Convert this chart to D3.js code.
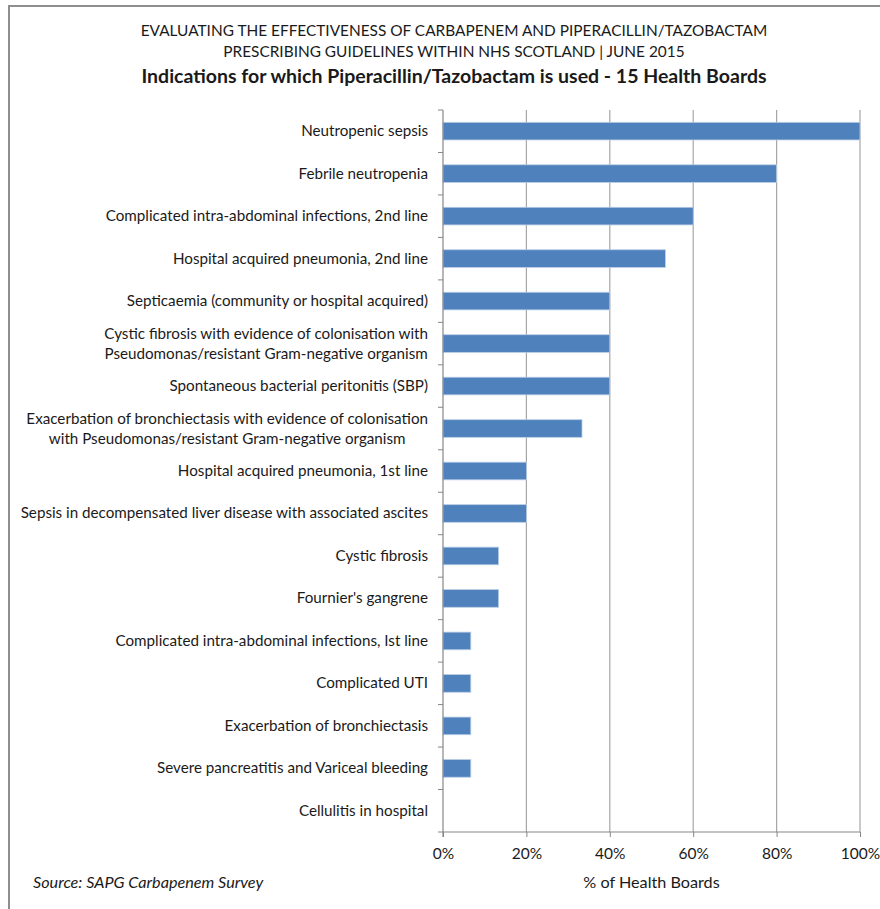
<!DOCTYPE html>
<html>
<head>
<meta charset="utf-8">
<script src="https://cdn.jsdelivr.net/npm/d3@7"></script>
<style>
  body { margin: 0; background: #fff; }
  text { font-family: Lato, "Open Sans", sans-serif; fill: #1a1a1a; }
</style>
</head>
<body>
<div id="chart"></div>
<script>
// categories top to bottom, "\n" marks a line break in the label
var categories = [
  "Neutropenic sepsis",
  "Febrile neutropenia",
  "Complicated intra-abdominal infections, 2nd line",
  "Hospital acquired pneumonia, 2nd line",
  "Septicaemia (community or hospital acquired)",
  "Cystic fibrosis with evidence of colonisation with\nPseudomonas/resistant Gram-negative organism",
  "Spontaneous bacterial peritonitis (SBP)",
  "Exacerbation of bronchiectasis with evidence of colonisation\nwith Pseudomonas/resistant  Gram-negative organism",
  "Hospital acquired pneumonia, 1st line",
  "Sepsis in decompensated liver disease with associated ascites",
  "Cystic fibrosis",
  "Fournier's gangrene",
  "Complicated intra-abdominal infections, Ist line",
  "Complicated UTI",
  "Exacerbation of bronchiectasis",
  "Severe pancreatitis and Variceal bleeding",
  "Cellulitis in hospital"
];
// number of the 15 boards
var boards = [15, 12, 9, 8, 6, 6, 6, 5, 3, 3, 2, 2, 1, 1, 1, 1, 0];
var totalBoards = 15;
var xTicks = [0, 0.2, 0.4, 0.6, 0.8, 1];
var titleLines = [
  "EVALUATING THE EFFECTIVENESS OF CARBAPENEM AND PIPERACILLIN/TAZOBACTAM",
  "PRESCRIBING GUIDELINES WITHIN NHS SCOTLAND | JUNE 2015"
];
var subTitle = "Indications for which Piperacillin/Tazobactam is used - 15 Health Boards";

var W = 880, H = 909;
var margin = {top: 110, right: 20, bottom: 77, left: 443};
var width = 860 - margin.left,
    height = 832 - margin.top;

var svg = d3.select("#chart").append("svg")
    .attr("width", W).attr("height", H);

// outer frame (right/bottom edges fall outside the picture)
svg.append("rect")
    .attr("x", 9).attr("y", 6)
    .attr("width", W + 20).attr("height", H + 20)
    .attr("fill", "none").attr("stroke", "#8e8e8e").attr("stroke-width", 2);

svg.selectAll(".ttl").data(titleLines).enter().append("text")
    .attr("class", "ttl")
    .attr("x", 454).attr("y", function (d, i) { return 36 + i * 21; })
    .attr("text-anchor", "middle")
    .style("font-size", "15.4px")
    .text(function (d) { return d; });

svg.append("text")
    .attr("x", 454).attr("y", 83)
    .attr("text-anchor", "middle")
    .style("font-size", "19.5px").style("font-weight", "bold")
    .text(subTitle);

var g = svg.append("g")
    .attr("transform", "translate(" + margin.left + "," + margin.top + ")");

var x = d3.scaleLinear().domain([0, 1]).range([0, width]);
var y = d3.scaleBand().domain(categories).range([0, height]).paddingInner(0.585).paddingOuter(0.29);
var yLines = d3.scaleBand().domain(categories).range([0, height]);

// gridlines
g.selectAll(".grid").data(xTicks.slice(1)).enter().append("line")
    .attr("class", "grid")
    .attr("x1", function (d) { return x(d); }).attr("x2", function (d) { return x(d); })
    .attr("y1", 0).attr("y2", height)
    .attr("stroke", "#a6a6a6").attr("stroke-width", 1.2);

// bars
g.selectAll(".bar").data(categories).enter().append("rect")
    .attr("class", "bar")
    .attr("x", 0)
    .attr("y", function (d) { return y(d); })
    .attr("height", y.bandwidth())
    .attr("width", function (d, i) { return x(boards[i] / totalBoards); })
    .attr("fill", "#4f81bd")
    .attr("stroke", function (d, i) { return boards[i] ? "#b9cde5" : "none"; })
    .attr("stroke-width", 0.8);

// y axis: line and ticks at band edges
g.append("line")
    .attr("x1", 0).attr("x2", 0).attr("y1", 0).attr("y2", height + 5)
    .attr("stroke", "#868686").attr("stroke-width", 1.2);
g.selectAll(".ytick").data(categories).enter().append("line")
    .attr("class", "ytick")
    .attr("x1", -5).attr("x2", 0)
    .attr("y1", function (d) { return yLines(d); })
    .attr("y2", function (d) { return yLines(d); })
    .attr("stroke", "#868686");

// x axis
var xAxis = d3.axisBottom(x).tickValues(xTicks).tickSize(5).tickPadding(11)
    .tickFormat(d3.format(".0%"));
var gx = g.append("g")
    .attr("transform", "translate(0," + height + ")")
    .call(xAxis);
gx.select(".domain").attr("stroke", "#868686").attr("stroke-width", 1.2)
    .attr("d", "M-5,0H" + width);
gx.selectAll(".tick line").attr("stroke", "#868686");
gx.selectAll(".tick text").style("font-size", "15.5px").attr("fill", "#1a1a1a");

// category labels, multi-line ones centred as a block
var labels = g.selectAll(".lab").data(categories).enter().append("text")
    .attr("class", "lab")
    .style("font-size", "15.2px");
labels.each(function (d) {
  var t = d3.select(this);
  var lines = d.split("\n");
  var cy = yLines(d) + yLines.bandwidth() / 2;
  lines.forEach(function (ln, k) {
    t.append("tspan").text(ln)
      .attr("y", cy + 5 + (k - (lines.length - 1) / 2) * 20);
  });
  var maxW = 0;
  t.selectAll("tspan").each(function () {
    maxW = Math.max(maxW, this.getComputedTextLength());
  });
  if (lines.length > 1) {
    t.attr("text-anchor", "middle");
    t.selectAll("tspan").attr("x", -15 - maxW / 2);
  } else {
    t.attr("text-anchor", "end");
    t.selectAll("tspan").attr("x", -15);
  }
});

g.append("text")
    .attr("x", width / 2).attr("y", height + 56)
    .attr("text-anchor", "middle")
    .style("font-size", "16.2px")
    .text("% of Health Boards");

svg.append("text")
    .attr("x", 33).attr("y", 888)
    .style("font-size", "16.2px").style("font-style", "italic")
    .text("Source: SAPG Carbapenem Survey");
</script>
</body>
</html>
